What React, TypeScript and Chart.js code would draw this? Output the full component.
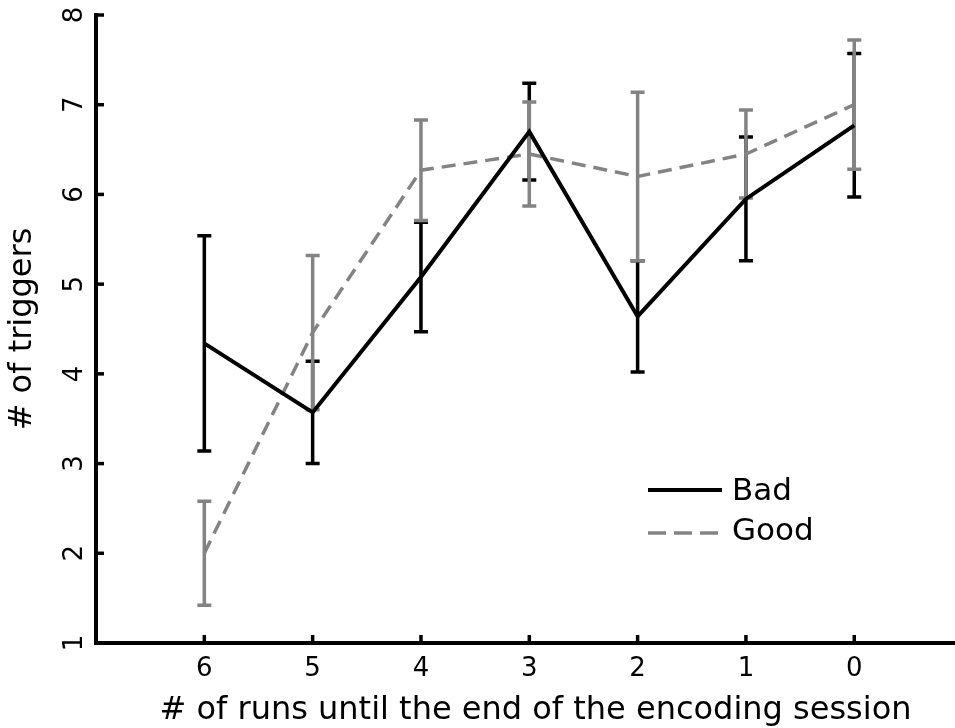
import React, { useEffect, useRef } from "react";
import { Chart, registerables } from "chart.js";

Chart.register(...registerables);

// ---- data ----
const runsLeft = [6, 5, 4, 3, 2, 1, 0];
const yTickValues = [1, 2, 3, 4, 5, 6, 7, 8];
const badMean = [4.34, 3.57, 5.08, 6.7, 4.64, 5.95, 6.77];
const badErr = [1.2, 0.57, 0.61, 0.54, 0.62, 0.69, 0.8];
const goodMean = [2.0, 4.46, 6.27, 6.45, 6.2, 6.45, 7.0];
const goodErr = [0.58, 0.86, 0.56, 0.58, 0.94, 0.49, 0.72];
const seriesNames = ["Bad", "Good"];
const xTitle = "# of runs until the end of the encoding session";
const yTitle = "# of triggers";

const FONT = '"DejaVu Sans", Verdana, sans-serif';
const BLACK = "#000000";
const GRAY = "#838383";

export default function App() {
  const ref = useRef<HTMLCanvasElement>(null);

  useEffect(() => {
    document.body.style.margin = "0";
    const canvas = ref.current;
    if (!canvas) return;

    const errorBars = {
      id: "errorBars",
      beforeDatasetsDraw(chart: any) {
        const ctx = chart.ctx;
        const xs = chart.scales.x;
        const ys = chart.scales.y;
        const groups = [
          { mean: badMean, err: badErr, color: BLACK, w: 3.5 },
          { mean: goodMean, err: goodErr, color: GRAY, w: 3.5 },
        ];
        ctx.save();
        for (const g of groups) {
          ctx.strokeStyle = g.color;
          ctx.lineWidth = g.w;
          ctx.setLineDash([]);
          runsLeft.forEach((r, i) => {
            const px = xs.getPixelForValue(r);
            const top = ys.getPixelForValue(g.mean[i] + g.err[i]);
            const bot = ys.getPixelForValue(g.mean[i] - g.err[i]);
            ctx.beginPath();
            ctx.moveTo(px, top);
            ctx.lineTo(px, bot);
            ctx.moveTo(px - 7, top);
            ctx.lineTo(px + 7, top);
            ctx.moveTo(px - 7, bot);
            ctx.lineTo(px + 7, bot);
            ctx.stroke();
          });
        }
        ctx.restore();
      },
    };

    const decorations = {
      id: "decorations",
      afterDraw(chart: any) {
        const ctx = chart.ctx;
        const xs = chart.scales.x;
        const ys = chart.scales.y;
        const area = chart.chartArea;
        ctx.save();
        ctx.strokeStyle = BLACK;
        ctx.lineWidth = 3.5;
        ctx.setLineDash([]);
        // inward ticks
        yTickValues.forEach((v) => {
          const py = ys.getPixelForValue(v);
          ctx.beginPath();
          ctx.moveTo(area.left, py);
          ctx.lineTo(area.left + 8, py);
          ctx.stroke();
        });
        runsLeft.forEach((r) => {
          const px = xs.getPixelForValue(r);
          ctx.beginPath();
          ctx.moveTo(px, area.bottom);
          ctx.lineTo(px, area.bottom - 8);
          ctx.stroke();
        });
        // rotated y tick labels
        ctx.fillStyle = BLACK;
        ctx.font = `26px ${FONT}`;
        ctx.textAlign = "center";
        ctx.textBaseline = "middle";
        yTickValues.forEach((v) => {
          const py = ys.getPixelForValue(v);
          ctx.save();
          ctx.translate(area.left - 21, py);
          ctx.rotate(-Math.PI / 2);
          ctx.fillText(String(v), 0, 0);
          ctx.restore();
        });
        // x axis title
        ctx.font = `32px ${FONT}`;
        ctx.textAlign = "center";
        ctx.textBaseline = "alphabetic";
        ctx.fillText(xTitle, (area.left + area.right) / 2 + 10, 719);
        // legend
        const lx = 648;
        const ly = 490;
        ctx.font = `31px ${FONT}`;
        ctx.textAlign = "left";
        ctx.textBaseline = "alphabetic";
        ctx.lineWidth = 4;
        ctx.strokeStyle = BLACK;
        ctx.beginPath();
        ctx.moveTo(lx, ly);
        ctx.lineTo(lx + 74, ly);
        ctx.stroke();
        ctx.fillText(seriesNames[0], lx + 84, ly + 10);
        ctx.strokeStyle = GRAY;
        ctx.lineWidth = 3.5;
        ctx.setLineDash([18, 8]);
        ctx.beginPath();
        ctx.moveTo(lx, ly + 43);
        ctx.lineTo(lx + 74, ly + 43);
        ctx.stroke();
        ctx.setLineDash([]);
        ctx.fillText(seriesNames[1], lx + 84, ly + 50);
        ctx.restore();
      },
    };

    const chart = new Chart(canvas, {
      type: "line",
      data: {
        datasets: [
          {
            label: seriesNames[0],
            data: runsLeft.map((r, i) => ({ x: r, y: badMean[i] })),
            borderColor: BLACK,
            borderWidth: 4,
            pointRadius: 0,
            tension: 0,
            fill: false,
            order: 0,
          },
          {
            label: seriesNames[1],
            data: runsLeft.map((r, i) => ({ x: r, y: goodMean[i] })),
            borderColor: GRAY,
            borderWidth: 3.5,
            borderDash: [14, 8],
            pointRadius: 0,
            tension: 0,
            fill: false,
            order: 1,
          },
        ],
      },
      options: {
        responsive: false,
        animation: false,
        layout: { padding: { top: 15, right: 0, left: 0, bottom: 0 } },
        plugins: {
          legend: { display: false },
          tooltip: { enabled: false },
        },
        scales: {
          x: {
            type: "linear",
            reverse: true,
            min: -0.93,
            max: 7,
            afterBuildTicks: (scale: any) => {
              scale.ticks = runsLeft.map((v) => ({ value: v }));
            },
            afterFit: (scale: any) => {
              scale.height = 85;
            },
            grid: { display: false, drawTicks: false },
            border: { display: true, color: BLACK, width: 4 },
            ticks: {
              color: BLACK,
              font: { family: FONT, size: 26 },
              padding: 11,
              maxRotation: 0,
              autoSkip: false,
            },
            title: { display: false },
          },
          y: {
            type: "linear",
            min: 1,
            max: 8,
            afterBuildTicks: (scale: any) => {
              scale.ticks = yTickValues.map((v) => ({ value: v }));
            },
            afterFit: (scale: any) => {
              scale.width = 96;
            },
            grid: { display: false, drawTicks: false },
            border: { display: true, color: BLACK, width: 4 },
            ticks: { display: false },
            title: {
              display: true,
              text: yTitle,
              color: BLACK,
              font: { family: FONT, size: 32 },
              padding: { top: 3, bottom: 0 },
            },
          },
        },
      },
      plugins: [errorBars, decorations],
    } as any);

    return () => chart.destroy();
  }, []);

  return (
    <div style={{ width: 955, height: 728, position: "relative" }}>
      <canvas ref={ref} width={955} height={728} />
    </div>
  );
}
